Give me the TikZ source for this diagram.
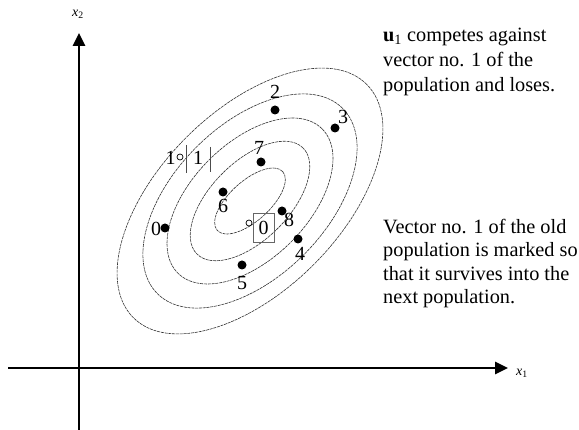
\documentclass[tikz,border=0pt]{standalone}
\usepackage{fontspec}
\setmainfont{Liberation Serif}
\usetikzlibrary{arrows.meta}
\tikzset{
  axis/.style={line width=2.7pt, -{Triangle[length=13pt,width=12pt]}},
  contour/.style={line width=0.6pt, black!80, dash pattern=on 3pt off 0.8pt},
  dot/.style={circle, fill=black, inner sep=0pt, minimum size=9pt},
  hollow/.style={circle, draw=black, line width=0.7pt, fill=white, inner sep=0pt, minimum size=6pt},
  lab/.style={inner sep=0pt, font=\fontsize{20}{24}\selectfont},
  axlab/.style={inner sep=0pt, font=\fontsize{14}{16}\selectfont},
  para/.style={inner sep=0pt, anchor=north west, align=left},
  markbox/.style={draw=black!60, line width=0.7pt, inner sep=0pt, minimum width=21pt, minimum height=29pt, font=\fontsize{20}{24}\selectfont},
  bar/.style={draw=black!70, line width=0.7pt}
}
\begin{document}
\begin{tikzpicture}[x=1pt,y=-1pt]
\useasboundingbox (0,0) rectangle (579,430);
% axes
\coordinate (vb) at (79,430);
\coordinate (vt) at (79,33);
\coordinate (hl) at (8,368);
\coordinate (hr) at (508,368);
\draw[axis] (vb) -- (vt);
\draw[axis] (hl) -- (hr);
\node[axlab] (x2) at (78,14) {\textit{x}\textsubscript{2}};
\node[axlab] (x1) at (522,373) {\textit{x}\textsubscript{1}};
% contours
\coordinate (c) at (250,201);
\draw[contour, rotate around={45:(c)}] (c) ellipse [x radius=165pt, y radius=90pt];
\draw[contour, rotate around={45:(c)}] (c) ellipse [x radius=131pt, y radius=76pt];
\draw[contour, rotate around={45:(c)}] (c) ellipse [x radius=102pt, y radius=58pt];
\draw[contour, rotate around={45:(c)}] (c) ellipse [x radius=75pt, y radius=39pt];
\draw[contour, rotate around={42:(c)}] (c) ellipse [x radius=44pt, y radius=20pt];
% population points
\node[dot] (p2) at (275,110) {};
\node[lab] (l2) at (275,92) {2};
\node[dot] (p3) at (335,128) {};
\node[lab] (l3) at (343,117) {3};
\node[dot] (p7) at (261,162) {};
\node[lab] (l7) at (259,148) {7};
\node[dot] (p6) at (223,192) {};
\node[lab] (l6) at (223,206) {6};
\node[dot] (p8) at (282,211) {};
\node[lab] (l8) at (289,220) {8};
\node[dot] (p4) at (298,239) {};
\node[lab] (l4) at (300,254) {4};
\node[dot] (p5) at (242,265) {};
\node[lab] (l5) at (242,283) {5};
\node[dot] (p0) at (165,228) {};
\node[lab] (l0) at (156,229) {0};
% vector 1 (old) marked
\node[hollow] (h1) at (180,157) {};
\node[lab] (l1) at (170.5,158) {1};
\node[lab] (m1) at (198,158) {1};
\coordinate (b1t) at (186,145);
\coordinate (b1b) at (186,173);
\coordinate (b2t) at (210,147);
\coordinate (b2b) at (210,172);
\draw[bar] (b1t) -- (b1b);
\draw[bar] (b2t) -- (b2b);
% vector 0 (u1) in box
\node[hollow] (h0) at (249,223) {};
\node[markbox] (m0) at (263.5,227.5) {0};
% explanatory texts
\node[para, font=\fontsize{20.3}{25}\selectfont] (t1) at (383,28) {\textbf{u}\textsubscript{1} competes against\\vector no. 1 of the\\population and loses.};
\node[para, font=\fontsize{20.3}{23.4}\selectfont] (t2) at (383,219) {Vector no. 1 of the old\\population is marked so\\that it survives into the\\next population.};
\end{tikzpicture}
\end{document}
